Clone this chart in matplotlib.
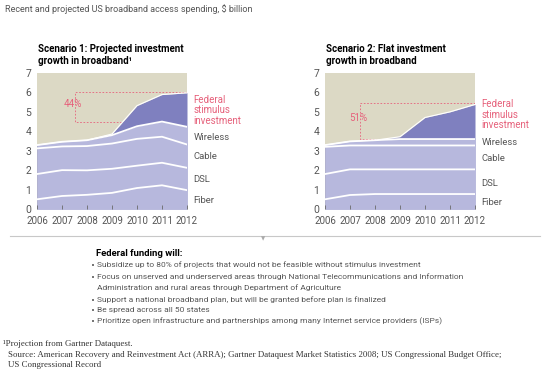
import numpy as np
import matplotlib.pyplot as plt
from matplotlib import font_manager

years = [2006, 2007, 2008, 2009, 2010, 2011, 2012]

# scenario 1, cumulative tops of each layer ($ billion)
s1_fiber = [0.50, 0.67, 0.73, 0.83, 1.08, 1.22, 0.97]
s1_dsl = [1.80, 2.00, 1.99, 2.07, 2.23, 2.38, 2.12]
s1_cable = [3.12, 3.22, 3.24, 3.37, 3.61, 3.72, 3.32]
s1_wireless = [3.29, 3.46, 3.54, 3.80, 4.26, 4.50, 4.23]
s1_federal = [3.29, 3.46, 3.54, 3.86, 5.32, 5.89, 5.98]

# scenario 2, cumulative tops
s2_fiber = [0.50, 0.72, 0.77, 0.77, 0.77, 0.77, 0.77]
s2_dsl = [1.80, 2.04, 2.04, 2.04, 2.04, 2.04, 2.04]
s2_cable = [3.20, 3.27, 3.27, 3.27, 3.27, 3.27, 3.27]
s2_wireless = [3.29, 3.48, 3.54, 3.60, 3.60, 3.60, 3.60]
s2_federal = [3.29, 3.48, 3.54, 3.72, 4.71, 5.00, 5.38]

layer_names = ['Fiber', 'DSL', 'Cable', 'Wireless']

bullets = [
    'Subsidize up to 80% of projects that would not be feasible without stimulus investment',
    'Focus on unserved and underserved areas through National Telecommunications and Information',
    'Support a national broadband plan, but will be granted before plan is finalized',
    'Be spread across all 50 states',
    'Prioritize open infrastructure and partnerships among many Internet service providers (ISPs)',
]
bullet2_cont = 'Administration and rural areas through Department of Agriculture'

names = {f.name for f in font_manager.fontManager.ttflist}
NARROW = [f for f in ['Liberation Sans Narrow', 'DejaVu Sans Condensed', 'Roboto']
          if f in names] + ['DejaVu Sans']
SERIF = ['Liberation Serif', 'DejaVu Serif']
BG = '#dcd9c5'
LAV = '#b7b8dd'
FED = '#7f80bf'
PINK = '#e6617b'
GREY = '#555555'

W, H = 545, 383
fig = plt.figure(figsize=(W / 100, H / 100), dpi=100)


def px(x, y):
    return x / W, 1 - y / H


def panel(x0, x1, tops, fed, title, box, pct, labels_y, fed_y):
    l, b = px(x0, 209)
    r, t = px(x1, 73)
    ax = fig.add_axes([l, b, r - l, t - b])
    ax.set_facecolor(BG)
    ax.set_xlim(2006, 2012)
    ax.set_ylim(0, 7)
    ax.fill_between(years, 0, fed, color=FED, lw=0, zorder=3)
    ax.fill_between(years, 0, tops[-1], color=LAV, lw=0, zorder=4)
    for tp in tops:
        ax.plot(years, tp, color='white', lw=1.3, zorder=5)
    ax.plot(years, fed, color='white', lw=0.8, zorder=5)
    # dashed bracket for stimulus share
    bx, ylo, yhi = box
    ax.plot([2012, bx, bx, 2012], [yhi, yhi, ylo, ylo], color=PINK, lw=0.6,
            ls=(0, (2, 2)), zorder=2)
    ax.text(bx - 0.05, (ylo + yhi) / 2 + 0.15, pct, color=PINK, fontsize=7,
            family=NARROW, ha='center', va='center', zorder=2)
    for sp in ax.spines.values():
        sp.set_visible(False)
    ax.set_xticks(years)
    ax.set_yticks(range(8))
    ax.tick_params(axis='y', colors=GREY, labelsize=7.5, length=0, pad=4)
    ax.tick_params(axis='x', colors=GREY, labelsize=7, length=3, pad=5,
                   direction='in', width=0.6)
    ax.tick_params(axis='x', color='#6a6a6a')
    for tk in ax.xaxis.get_major_ticks():
        tk.tick1line.set_zorder(6)
    ax.xaxis.set_zorder(6)
    for lab in ax.get_xticklabels() + ax.get_yticklabels():
        lab.set_family(NARROW)
    for name, yy in zip(layer_names, labels_y):
        ax.text(2012.27, yy, name, color=GREY, fontsize=6.8, family=NARROW,
                va='center', clip_on=False)
    ax.text(2012.27, fed_y, 'Federal\nstimulus\ninvestment', color=PINK,
            fontsize=7, family=NARROW, va='center', linespacing=1.1,
            clip_on=False)
    fig.text(*px(x0 + 1, 55), title, fontsize=7, fontweight='bold',
             family=NARROW, va='center', linespacing=1.25)
    return ax


panel(37, 187, [s1_fiber, s1_dsl, s1_cable, s1_wireless], s1_federal,
      'Scenario 1: Projected investment\ngrowth in broadband\u00b9',
      (2007.5, 4.5, 6.0), '44%', [0.46, 1.5, 2.69, 3.68], 5.08)
panel(325, 475, [s2_fiber, s2_dsl, s2_cable, s2_wireless], s2_federal,
      'Scenario 2: Flat investment\ngrowth in broadband',
      (2007.4, 3.6, 5.45), '51%', [0.33, 1.32, 2.59, 3.41], 4.86)

fig.text(*px(5, 9), 'Recent and projected US broadband access spending, $ billion',
         fontsize=6.5, color=GREY, family=NARROW, va='center')

# divider with small marker
fig.add_artist(plt.Line2D([10 / W, 540 / W], [1 - 236 / H] * 2,
                          color='#c8c8c8', lw=0.8))
fig.text(*px(263, 239), '\u25bc', fontsize=4, color='#aaaaaa',
         ha='center', va='center', family=['DejaVu Sans'])

fig.text(*px(96, 254), 'Federal funding will:', fontsize=6.8, fontweight='bold',
         family=NARROW, va='center')
by = [265, 277, 300, 310, 321]
for yy, txt in zip(by, bullets):
    fig.add_artist(plt.Line2D([93 / W], [1 - yy / H], marker='s', ms=1.6,
                              color='#777777', mew=0))
    fig.text(*px(97, yy), txt, fontsize=6, color=GREY, family=NARROW,
             va='center')
fig.text(*px(97, 288), bullet2_cont, fontsize=6, color=GREY, family=NARROW,
         va='center')

fig.text(*px(3, 344), '\u00b9Projection from Gartner Dataquest.', fontsize=6.4,
         family=SERIF, color='#333333', va='center')
fig.text(*px(8, 360), 'Source: American Recovery and Reinvestment Act (ARRA); '
         'Gartner Dataquest Market Statistics 2008; US Congressional Budget Office;\n'
         'US Congressional Record', fontsize=6.4, family=SERIF, color='#333333',
         va='center', linespacing=1.25)

fig.savefig('out.png', dpi=100)
